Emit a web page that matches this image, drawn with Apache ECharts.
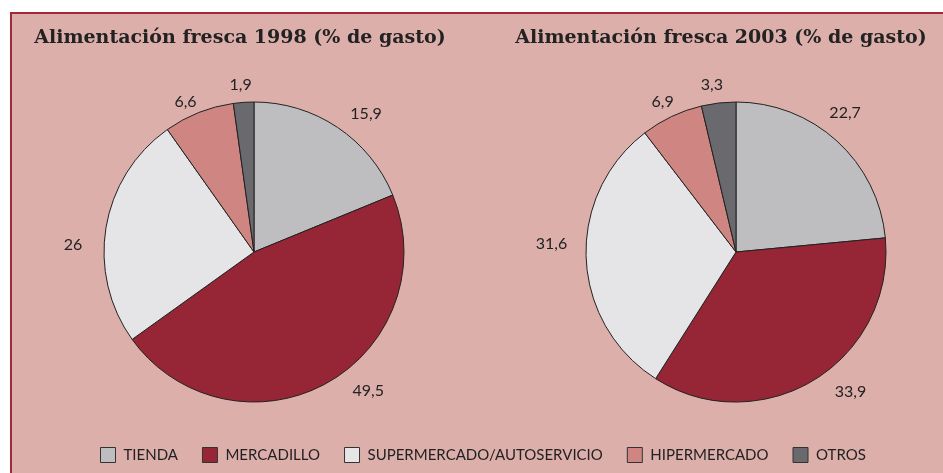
<!DOCTYPE html>
<html><head><meta charset="utf-8">
<script src="https://cdn.jsdelivr.net/npm/echarts@6/dist/echarts.min.js"></script>
<style>html,body{margin:0;padding:0;background:#fff}#c{width:943px;height:473px}</style>
</head><body><div id="c"></div>
<script>
const categories = ['TIENDA','MERCADILLO','SUPERMERCADO/AUTOSERVICIO','HIPERMERCADO','OTROS'];
// slice sizes as drawn in the reference (share of the circle, %)
const slices1998 = [18.8, 46.3, 25.1, 7.6, 2.2];
const slices2003 = [23.5, 35.5, 30.6, 6.7, 3.7];
// value labels printed on the reference
const labels1998 = ['15,9', '49,5', '26', '6,6', '1,9'];
const labels2003 = ['22,7', '33,9', '31,6', '6,9', '3,3'];
const titles = ['Alimentación fresca 1998 (% de gasto)','Alimentación fresca 2003 (% de gasto)'];
const colors = ['#bebec0','#962536','#e5e5e7','#cf8682','#6a6a6e'];

// label nudges (layout only)
const nudge = [
  [[0,-2],[14,-5],[-5,20],[8,2],[14,-4]],
  [[-22,-18],[8,0],[0,-15],[13,-2],[11,-4]]
];

const chart = echarts.init(document.getElementById('c'));
function mk(vals, labels, cx, si){
  return {
    type:'pie', center:[cx,252], radius:[0,150], startAngle:90, clockwise:true,
    avoidLabelOverlap:false,
    data: categories.map((n,i)=>({name:n, value:vals[i], label:{formatter:labels[i]}})),
    label:{show:true, position:'outside', color:'#222', fontSize:16, fontFamily:'Lato'},
    labelLine:{show:false, length:14, length2:0},
    labelLayout:p=>({dx:nudge[si][p.dataIndex][0], dy:nudge[si][p.dataIndex][1]}),
    itemStyle:{borderColor:'#222', borderWidth:1},
    emphasis:{disabled:true}
  };
}
const titleStyle = {fontFamily:'DejaVu Serif', fontWeight:'bold', fontSize:19, color:'#222'};
chart.setOption({
  animation:false,
  color:colors,
  graphic:[{type:'rect', shape:{x:11,y:13,width:960,height:500}, style:{fill:'#ddafab', stroke:'#a3293a', lineWidth:2}, z:-10}],
  title:[
    {text:titles[0], left:240, top:29, padding:0, textAlign:'center', textStyle:titleStyle},
    {text:titles[1], left:721, top:29, padding:0, textAlign:'center', textStyle:titleStyle}
  ],
  legend:{data:categories, left:100, top:447, padding:0, itemWidth:15, itemHeight:15, itemGap:24, icon:'rect',
    itemStyle:{borderColor:'#333', borderWidth:1},
    textStyle:{fontFamily:'Lato', fontSize:15, color:'#222', padding:[0,0,0,3]}},
  series:[mk(slices1998,labels1998,254,0), mk(slices2003,labels2003,736,1)]
});
</script></body></html>
